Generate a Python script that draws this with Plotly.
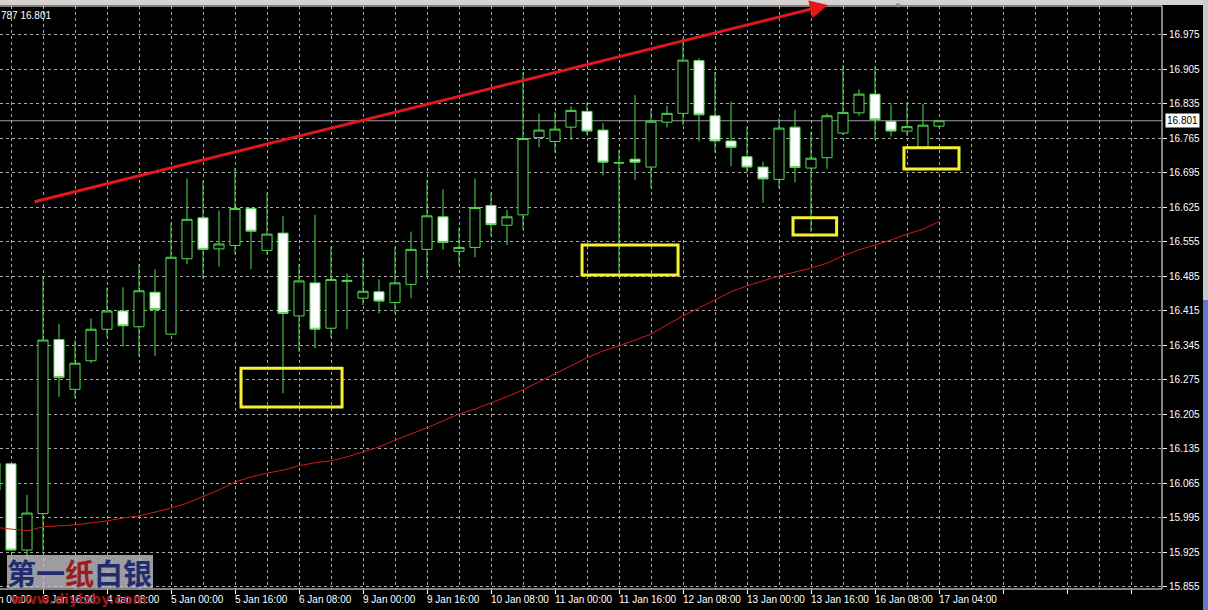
import plotly.graph_objects as go

# ---------------- data ----------------
bar_index = list(range(-3, 57))  # H4 bars, 0 = 3 Jan 16:00

open_ = [16.052, 16.105, 15.930, 16.004, 16.357, 16.256, 16.314, 16.378, 16.415, 16.383,
         16.453, 16.368, 16.521, 16.604, 16.541, 16.548, 16.623, 16.538, 16.573, 16.405,
         16.472, 16.380, 16.475, 16.441, 16.454, 16.432, 16.469, 16.540, 16.606, 16.536,
         16.544, 16.629, 16.589, 16.610, 16.767, 16.759, 16.788, 16.820, 16.782, 16.715,
         16.723, 16.707, 16.798, 16.816, 16.923, 16.811, 16.760, 16.728, 16.707, 16.682,
         16.788, 16.705, 16.726, 16.776, 16.817, 16.855, 16.800, 16.780, 16.747, 16.790]
high = [16.112, 16.107, 16.042, 16.485, 16.389, 16.356, 16.400, 16.463, 16.463, 16.510,
        16.500, 16.594, 16.684, 16.679, 16.619, 16.705, 16.625, 16.655, 16.608, 16.510,
        16.610, 16.545, 16.491, 16.522, 16.479, 16.545, 16.576, 16.681, 16.662, 16.585,
        16.684, 16.655, 16.620, 16.899, 16.815, 16.819, 16.830, 16.838, 16.796, 16.742,
        16.853, 16.826, 16.831, 16.969, 16.928, 16.900, 16.840, 16.789, 16.718, 16.806,
        16.823, 16.779, 16.816, 16.914, 16.865, 16.911, 16.834, 16.836, 16.835, 16.801]
low = [16.045, 15.928, 15.906, 15.927, 16.241, 16.238, 16.309, 16.362, 16.343, 16.322,
       16.324, 16.366, 16.510, 16.481, 16.505, 16.530, 16.500, 16.529, 16.248, 16.332,
       16.339, 16.360, 16.378, 16.427, 16.410, 16.410, 16.441, 16.485, 16.539, 16.508,
       16.524, 16.567, 16.549, 16.580, 16.747, 16.736, 16.762, 16.771, 16.690, 16.491,
       16.681, 16.664, 16.787, 16.792, 16.759, 16.736, 16.709, 16.696, 16.635, 16.664,
       16.676, 16.576, 16.703, 16.772, 16.811, 16.762, 16.769, 16.770, 16.747, 16.787]
close = [16.106, 15.930, 16.005, 16.356, 16.280, 16.309, 16.378, 16.415, 16.385, 16.456,
         16.418, 16.524, 16.601, 16.540, 16.551, 16.623, 16.577, 16.571, 16.410, 16.476,
         16.378, 16.479, 16.477, 16.455, 16.435, 16.472, 16.540, 16.608, 16.554, 16.544,
         16.625, 16.590, 16.606, 16.765, 16.782, 16.784, 16.822, 16.780, 16.717, 16.716,
         16.717, 16.800, 16.816, 16.924, 16.813, 16.760, 16.747, 16.707, 16.683, 16.786,
         16.706, 16.725, 16.811, 16.818, 16.855, 16.803, 16.780, 16.789, 16.792, 16.801]

moving_avg = [15.976, 15.973, 15.969, 15.977, 15.979, 15.981, 15.985, 15.989, 15.995, 15.999,
              16.007, 16.015, 16.025, 16.038, 16.052, 16.068, 16.078, 16.086, 16.092, 16.101,
              16.107, 16.111, 16.119, 16.129, 16.139, 16.153, 16.165, 16.178, 16.192, 16.206,
              16.216, 16.228, 16.241, 16.255, 16.271, 16.287, 16.303, 16.320, 16.334, 16.344,
              16.356, 16.368, 16.387, 16.405, 16.421, 16.437, 16.454, 16.466, 16.476, 16.486,
              16.494, 16.502, 16.512, 16.527, 16.539, 16.549, 16.559, 16.571, 16.581, 16.596]

tick_positions = [-4, 0, 4, 8, 12, 16, 20, 24, 28, 32, 36, 40, 44, 48, 52, 56]
tick_labels = ["3 Jan 00:00", "3 Jan 16:00", "4 Jan 08:00", "5 Jan 00:00", "5 Jan 16:00",
               "6 Jan 08:00", "9 Jan 00:00", "9 Jan 16:00", "10 Jan 08:00", "11 Jan 00:00",
               "11 Jan 16:00", "12 Jan 08:00", "13 Jan 00:00", "13 Jan 16:00",
               "16 Jan 08:00", "17 Jan 04:00"]

# trend arrow (bar index, price) start -> end
trend_x = [-0.625, 49.06]
trend_y = [16.636, 17.036]

# highlighted boxes: (x0, x1, y0, y1) in bar index / price
boxes_x0 = [12.375, 33.69, 46.875, 53.81]
boxes_x1 = [18.69, 39.69, 49.6, 57.25]
boxes_y0 = [16.220, 16.488, 16.569, 16.703]
boxes_y1 = [16.299, 16.549, 16.604, 16.746]

header_text = "787 16.801"

# ---------------- style ----------------
W, H = 1208, 610
ML, MR, MT, MB = 0, 46, 6, 21
PW, PH = W - ML - MR, H - MT - MB
X_RANGE = [-2.6875, 69.9375]
Y_RANGE = [15.8509, 17.0338]
GREEN = "#4fdc4f"
GRID = "#a9a9a9"
FONT = "Liberation Sans"


def px_x(px):
    return (px - ML) / PW


def px_y(py):
    return (H - MB - py) / PH


fig = go.Figure()

fig.add_trace(go.Candlestick(
    x=bar_index, open=open_, high=high, low=low, close=close,
    increasing=dict(line=dict(color=GREEN, width=1), fillcolor="black"),
    decreasing=dict(line=dict(color=GREEN, width=1), fillcolor="white"),
    whiskerwidth=0, hoverinfo="skip", showlegend=False,
))

fig.add_trace(go.Scatter(
    x=bar_index, y=moving_avg, mode="lines",
    line=dict(color="#d41a1a", width=1), hoverinfo="skip", showlegend=False,
))

shapes = []
# current price line
shapes.append(dict(type="line", xref="paper", yref="y", x0=0, x1=1,
                   y0=close[-1], y1=close[-1], line=dict(color="#9a9aa4", width=1),
                   layer="below"))
# yellow boxes
for x0, x1, y0, y1 in zip(boxes_x0, boxes_x1, boxes_y0, boxes_y1):
    shapes.append(dict(type="rect", xref="x", yref="y", x0=x0, x1=x1, y0=y0, y1=y1,
                       line=dict(color="#f5f032", width=3), fillcolor="rgba(0,0,0,0)"))
# borders
shapes.append(dict(type="line", xref="paper", yref="paper", x0=0, x1=1, y0=0, y1=0,
                   line=dict(color="white", width=1)))
shapes.append(dict(type="line", xref="paper", yref="paper", x0=1, x1=1, y0=0, y1=1,
                   line=dict(color="white", width=1)))
shapes.append(dict(type="line", xref="paper", yref="paper", x0=0, x1=1, y0=1, y1=1,
                   line=dict(color="white", width=1)))
# window strip at top and right
shapes.append(dict(type="rect", xref="paper", yref="paper", x0=px_x(0), x1=px_x(W),
                   y0=px_y(5), y1=px_y(0), fillcolor="#d6d3ce", line=dict(width=0)))
shapes.append(dict(type="rect", xref="paper", yref="paper", x0=px_x(1203), x1=px_x(W),
                   y0=px_y(300), y1=px_y(0), fillcolor="#c9c9d2", line=dict(width=0)))
shapes.append(dict(type="rect", xref="paper", yref="paper", x0=px_x(1203), x1=px_x(W),
                   y0=px_y(H), y1=px_y(300), fillcolor="#6676c8", line=dict(width=0)))
# watermark box
shapes.append(dict(type="rect", xref="paper", yref="paper", x0=px_x(7), x1=px_x(153),
                   y0=px_y(588), y1=px_y(555), fillcolor="rgba(190,190,198,0.82)",
                   line=dict(width=0)))

annotations = []
# trend arrow
annotations.append(dict(x=trend_x[1], y=trend_y[1], ax=trend_x[0], ay=trend_y[0],
                        xref="x", yref="y", axref="x", ayref="y", text="",
                        showarrow=True, arrowhead=2, arrowsize=1.2, arrowwidth=3,
                        arrowcolor="#e3161b"))
# x tick labels (left-aligned at tick as in the terminal)
for pos, lab in zip(tick_positions, tick_labels):
    annotations.append(dict(x=(pos - X_RANGE[0]) / (X_RANGE[1] - X_RANGE[0]), y=0,
                            xref="paper", yref="paper", text=lab, showarrow=False,
                            xanchor="left", yanchor="middle", xshift=-2, yshift=-10,
                            font=dict(family=FONT, size=10, color="white")))
# header text
annotations.append(dict(x=0, y=1, xref="paper", yref="paper", text=header_text,
                        showarrow=False, xanchor="left", yanchor="top", xshift=-1,
                        yshift=-2, font=dict(family=FONT, size=10, color="white")))
# current price label
annotations.append(dict(x=1, y=close[-1], xref="paper", yref="y",
                        text=f"{close[-1]:.3f}", showarrow=False, xanchor="left",
                        yanchor="middle", xshift=3, bgcolor="white", borderpad=1,
                        font=dict(family=FONT, size=10, color="black")))
# chart shift marker
annotations.append(dict(x=px_x(898), y=px_y(5), xref="paper", yref="paper", text="▼",
                        showarrow=False, xanchor="center", yanchor="middle",
                        font=dict(size=8, color="#8c8c8c")))
# watermark
annotations.append(dict(x=px_x(80), y=px_y(572), xref="paper", yref="paper",
                        text="<b>第一<span style='color:#9a1c1c'>纸</span>白银</b>",
                        showarrow=False, xanchor="center", yanchor="middle",
                        font=dict(family="Noto Sans CJK SC", size=29, color="#1f2d6e")))
annotations.append(dict(x=px_x(79), y=px_y(599), xref="paper", yref="paper",
                        text="<b>www.diyizby.com</b>", showarrow=False,
                        xanchor="center", yanchor="middle",
                        font=dict(family="DejaVu Sans", size=14,
                                  color="rgba(175,25,25,0.9)")))

fig.update_layout(
    width=W, height=H, autosize=False,
    margin=dict(l=ML, r=MR, t=MT, b=MB, pad=0),
    paper_bgcolor="black", plot_bgcolor="black",
    showlegend=False, boxgap=0.37, boxgroupgap=0,
    shapes=shapes, annotations=annotations,
    xaxis=dict(range=X_RANGE, tickmode="linear", tick0=0, dtick=4,
               showticklabels=False, ticks="outside", ticklen=4, tickcolor="white",
               showgrid=True, gridcolor=GRID, gridwidth=1, griddash="3px,3px",
               minor=dict(tick0=0, dtick=2, showgrid=True, gridcolor=GRID,
                          griddash="3px,3px", gridwidth=1, ticks=""),
               zeroline=False, showline=False, rangeslider=dict(visible=False),
               fixedrange=True),
    yaxis=dict(range=Y_RANGE, side="right", tickmode="linear", tick0=15.855, dtick=0.07,
               tickformat=".3f", ticks="outside", ticklen=4, tickcolor="white",
               tickfont=dict(family=FONT, size=10, color="white"),
               showgrid=True, gridcolor=GRID, gridwidth=1, griddash="3px,3px",
               zeroline=False, showline=False, fixedrange=True),
    font=dict(family=FONT, color="white"),
)

fig.write_html(
    "out.html",
    config={"displayModeBar": False},
    post_script="document.body.style.margin='0';document.body.style.overflow='hidden';"
                "document.body.style.background='black';",
)
